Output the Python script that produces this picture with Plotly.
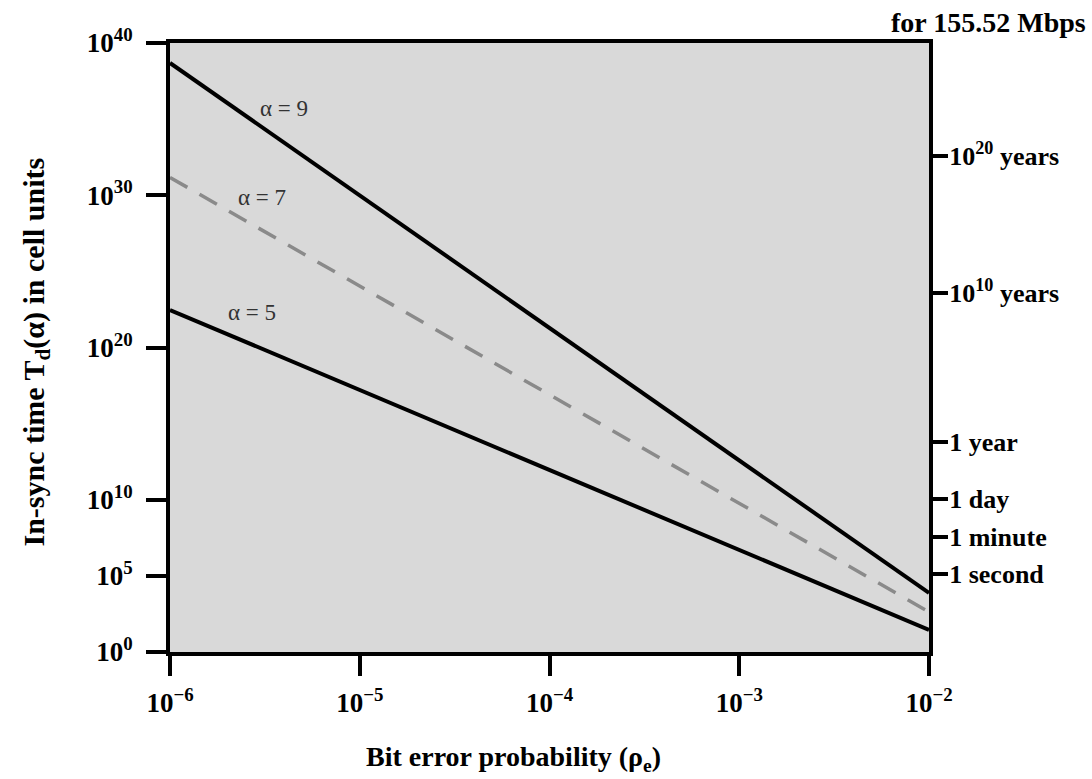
import plotly.graph_objects as go

# Data
x_vals = [1e-6, 1e-2]
alpha9 = [10**38.69, 10**3.88]
alpha7 = [10**31.17, 10**2.63]
alpha5 = [10**22.46, 10**1.45]

x_ticks = [1e-6, 1e-5, 1e-4, 1e-3, 1e-2]
x_ticktext = ["10<sup>−6</sup>", "10<sup>−5</sup>", "10<sup>−4</sup>", "10<sup>−3</sup>", "10<sup>−2</sup>"]
y_ticks = [1e0, 1e5, 1e10, 1e20, 1e30, 1e40]
y_ticktext = ["10<sup>0</sup>", "10<sup>5</sup>", "10<sup>10</sup>", "10<sup>20</sup>", "10<sup>30</sup>", "10<sup>40</sup>"]
r_ticks = [10**5.12, 10**7.55, 10**10.05, 10**13.79, 10**23.58, 10**32.58]
r_ticktext = ["1 second", "1 minute", "1 day", "1 year", "10<sup>10</sup> years", "10<sup>20</sup> years"]

serif = "Liberation Serif, Times New Roman, serif"

fig = go.Figure()
fig.add_trace(go.Scatter(x=x_vals, y=alpha9, mode="lines",
                         line=dict(color="black", width=4), showlegend=False))
fig.add_trace(go.Scatter(x=x_vals, y=alpha7, mode="lines",
                         line=dict(color="#8a8a8a", width=3.5, dash="20px,14px"), showlegend=False))
fig.add_trace(go.Scatter(x=x_vals, y=alpha5, mode="lines",
                         line=dict(color="black", width=4), showlegend=False))
# invisible trace on the right axis
fig.add_trace(go.Scatter(x=x_vals, y=[1, 1], yaxis="y2", mode="lines",
                         line=dict(width=0), opacity=0, showlegend=False, hoverinfo="skip"))

tickfont = dict(family=serif, size=27, color="black", weight="bold")
rtickfont = dict(family=serif, size=26, color="black", weight="bold")

fig.update_layout(
    width=1092, height=779,
    margin=dict(l=170, r=163, t=43, b=127, autoexpand=False),
    paper_bgcolor="white",
    plot_bgcolor="#d9d9d9",
    xaxis=dict(type="log", range=[-6, -2], tickvals=x_ticks, ticktext=x_ticktext,
               showgrid=False, zeroline=False, showline=True, linecolor="black", linewidth=4,
               mirror=True, ticks="outside", ticklen=20, tickwidth=4, tickcolor="black",
               tickfont=tickfont, automargin=False, ticklabelstandoff=4),
    yaxis=dict(type="log", range=[0, 40], tickvals=y_ticks, ticktext=y_ticktext,
               showgrid=False, zeroline=False, showline=True, linecolor="black", linewidth=4,
               mirror=True, ticks="outside", ticklen=20, tickwidth=4, tickcolor="black",
               tickfont=tickfont, automargin=False, ticklabelstandoff=8),
    yaxis2=dict(type="log", range=[0, 40], overlaying="y", side="right",
                tickvals=r_ticks, ticktext=r_ticktext,
                showgrid=False, zeroline=False, showline=False,
                ticks="outside", ticklen=18, tickwidth=3.5, tickcolor="black",
                tickfont=rtickfont, automargin=False, ticklabelstandoff=-4),
)

label_font = dict(family=serif, size=23, color="#333333")
fig.add_annotation(x=-5.40, y=35.73, xref="x", yref="y", text="α = 9", showarrow=False, font=label_font)
fig.add_annotation(x=-5.516, y=29.82, xref="x", yref="y", text="α = 7", showarrow=False, font=label_font)
fig.add_annotation(x=-5.568, y=22.27, xref="x", yref="y", text="α = 5", showarrow=False, font=label_font)

fig.add_annotation(x=0.4526, y=0, xref="paper", yref="paper", xanchor="center", yanchor="middle",
                   yshift=-106,
                   text="Bit error probability (ρ<sub>e</sub>)", showarrow=False,
                   font=dict(family=serif, size=28, color="black", weight="bold"))
fig.add_annotation(x=0, y=0.5, xref="paper", yref="paper", xanchor="center", yanchor="middle",
                   xshift=-135, yshift=-5,
                   text="In-sync time T<sub>d</sub>(α) in cell units", textangle=-90,
                   showarrow=False, font=dict(family=serif, size=30, color="black", weight="bold"))
fig.add_annotation(x=1, y=1, xref="paper", yref="paper", xanchor="right", yanchor="middle",
                   xshift=159, yshift=21,
                   text="for 155.52 Mbps", showarrow=False,
                   font=dict(family=serif, size=28, color="black", weight="bold"))

fig.write_html("out.html", config={"displayModeBar": False},
               post_script="document.body.style.margin='0';")
